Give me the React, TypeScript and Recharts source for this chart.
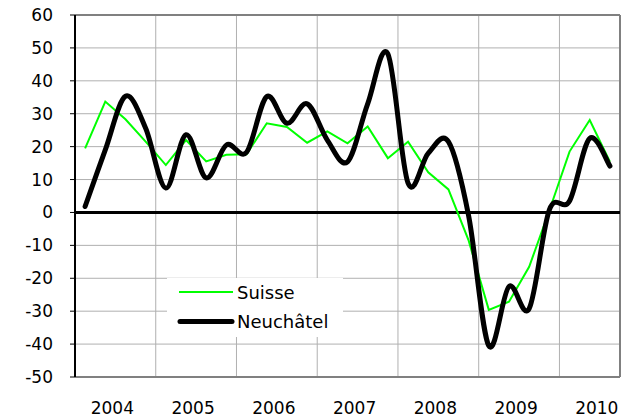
import React from 'react';
import { LineChart, Line, XAxis, YAxis, CartesianGrid, ReferenceLine, Legend } from 'recharts';

const quarters = [
  '2004T1', '2004T2', '2004T3', '2004T4',
  '2005T1', '2005T2', '2005T3', '2005T4',
  '2006T1', '2006T2', '2006T3', '2006T4',
  '2007T1', '2007T2', '2007T3', '2007T4',
  '2008T1', '2008T2', '2008T3', '2008T4',
  '2009T1', '2009T2', '2009T3', '2009T4',
  '2010T1', '2010T2', '2010T3',
];
const years = ['2004', '2005', '2006', '2007', '2008', '2009', '2010'];
const suisse = [19.5, 33.7, 28.3, 21.5, 14.4, 22, 15.5, 17.5, 17.7, 27.1, 26, 21.2, 24.6, 21, 26.1, 16.5, 21.5, 12.2, 7, -8.5, -29.6, -27.1, -16.5, 0.6, 18.5, 28.1, 15.4];
const neuchatel = [1.8, 19, 35.3, 25.6, 7.4, 23.6, 10.5, 20.5, 18.3, 35.2, 27.1, 33, 22, 15.4, 33, 48.2, 8.9, 18, 21.5, -1, -40.5, -22.5, -29.2, 0.8, 3.5, 22.5, 14.1];
const yTicks = [-50, -40, -30, -20, -10, 0, 10, 20, 30, 40, 50, 60];

const data = quarters.map((q, i) => ({ q, x: i + 0.5, suisse: suisse[i], neuchatel: neuchatel[i] }));
const yearTicks = years.map((_, i) => i * 4 + 2);
const yearBounds = years.slice(1).map((_, i) => (i + 1) * 4);

const FONT = '"DejaVu Sans", Verdana, sans-serif';

// Catmull-Rom style smoothing (like spreadsheet "smoothed line")
function smoothCurve(context: any) {
  let pts: number[][] = [];
  return {
    areaStart() {},
    areaEnd() {},
    lineStart() { pts = []; },
    lineEnd() {
      if (!pts.length) return;
      context.moveTo(pts[0][0], pts[0][1]);
      for (let i = 0; i < pts.length - 1; i++) {
        const p0 = pts[i - 1] || pts[i];
        const p1 = pts[i];
        const p2 = pts[i + 1];
        const p3 = pts[i + 2] || p2;
        context.bezierCurveTo(
          p1[0] + (p2[0] - p0[0]) / 6, p1[1] + (p2[1] - p0[1]) / 6,
          p2[0] - (p3[0] - p1[0]) / 6, p2[1] - (p3[1] - p1[1]) / 6,
          p2[0], p2[1]
        );
      }
    },
    point(x: number, y: number) { pts.push([x, y]); },
  };
}

const LegendBox = () => (
  <svg width={176} height={59} style={{ display: 'block', background: '#fff' }}>
    <line x1={12} y1={14} x2={66} y2={14} stroke="#00ff00" strokeWidth={2} />
    <text x={70} y={21} fontSize={18} fontFamily={FONT} fill="#000">Suisse</text>
    <line x1={13} y1={43.5} x2={65} y2={43.5} stroke="#000" strokeWidth={5} strokeLinecap="round" />
    <text x={70} y={50} fontSize={18} fontFamily={FONT} fill="#000">Neuchâtel</text>
  </svg>
);

export default function App() {
  return (
    <div style={{ position: 'absolute', left: 0, top: 0, width: 622, height: 420, background: '#fff' }}>
      <LineChart width={622} height={420} data={data} margin={{ top: 15, right: 2, left: 0, bottom: 0 }}>
        <CartesianGrid vertical={false} stroke="#b0b0b0" />
        {yearBounds.map((b) => (
          <ReferenceLine key={b} x={b} stroke="#b0b0b0" strokeWidth={1} />
        ))}
        <ReferenceLine y={60} stroke="#808080" strokeWidth={2} />
        <ReferenceLine x={quarters.length} stroke="#808080" strokeWidth={2} />
        <ReferenceLine y={0} stroke="#000" strokeWidth={3} />
        <XAxis
          dataKey="x"
          type="number"
          domain={[0, quarters.length]}
          ticks={yearTicks}
          interval={0}
          tickFormatter={(v: number) => years[(v - 2) / 4]}
          axisLine={{ stroke: '#808080', strokeWidth: 2 }}
          tickLine={false}
          tickSize={0}
          tickMargin={25}
          height={43}
          tick={{ fill: '#000', fontSize: 17, fontFamily: FONT, dx: -3 }}
          allowDataOverflow
        />
        <YAxis
          type="number"
          domain={[-50, 60]}
          ticks={yTicks}
          interval={0}
          width={75}
          axisLine={{ stroke: '#000', strokeWidth: 2 }}
          tickLine={{ stroke: '#000' }}
          tickSize={5}
          tickMargin={17}
          tick={{ fill: '#000', fontSize: 17, fontFamily: FONT }}
          allowDataOverflow
        />
        <Legend
          layout="vertical"
          align="center"
          verticalAlign="middle"
          content={() => <LegendBox />}
          wrapperStyle={{ position: 'absolute', left: 167, top: 278, width: 176, height: 59 }}
        />
        <Line
          dataKey="suisse"
          name="Suisse"
          type="linear"
          stroke="#00ff00"
          strokeWidth={2}
          dot={false}
          activeDot={false}
          isAnimationActive={false}
        />
        <Line
          dataKey="neuchatel"
          name="Neuchâtel"
          type={smoothCurve as any}
          stroke="#000"
          strokeWidth={5}
          strokeLinejoin="round"
          strokeLinecap="round"
          dot={false}
          activeDot={false}
          isAnimationActive={false}
        />
      </LineChart>
    </div>
  );
}
